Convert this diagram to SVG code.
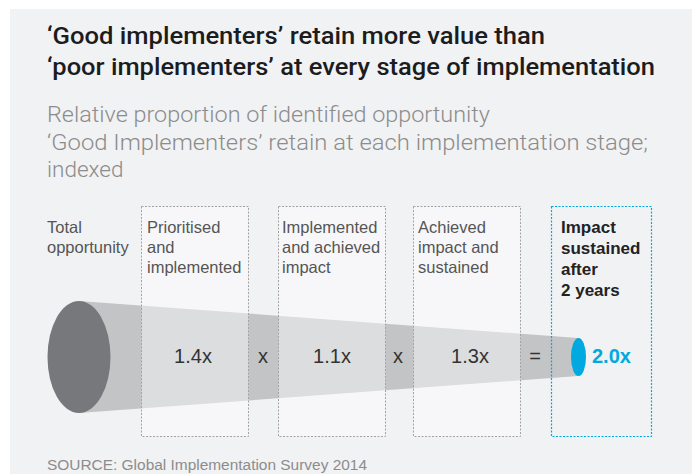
<svg xmlns="http://www.w3.org/2000/svg" width="692" height="474" viewBox="0 0 692 474">
  <style>
    .title { font-family: Roboto, "Liberation Sans", Arial, sans-serif; font-weight: 500; font-size: 24px; fill: #1c1c1c; }
    .sub { font-family: Roboto, "Liberation Sans", Arial, sans-serif; font-weight: 300; font-size: 22.5px; fill: #8c8c8c; }
    .lbl { font-family: "Liberation Sans", Arial, sans-serif; font-size: 16.5px; fill: #555; }
    .lblb { font-family: "Liberation Sans", Arial, sans-serif; font-weight: bold; font-size: 17px; fill: #222; }
    .val { font-family: "Liberation Sans", Arial, sans-serif; font-size: 20px; fill: #333; text-anchor: middle; }
    .res { font-family: "Liberation Sans", Arial, sans-serif; font-weight: bold; font-size: 20px; fill: #00a9e0; }
    .src { font-family: "Liberation Sans", Arial, sans-serif; font-size: 15.5px; fill: #8c8c8c; }
    .stage { fill: #ffffff; fill-opacity: 0.42; stroke: #a3a3a3; stroke-width: 1; stroke-dasharray: 2 1.5; }
    .result { fill: none; stroke: #00a9e0; stroke-width: 1.2; stroke-dasharray: 2 1.5; }
  </style>

  <!-- page and panel -->
  <rect x="0" y="0" width="692" height="474" fill="#ffffff"/>
  <rect x="10" y="9" width="682" height="465" fill="#f1f2f4"/>

  <!-- heading -->
  <g id="heading">
    <text class="title" x="47" y="44" textLength="498" lengthAdjust="spacingAndGlyphs">‘Good implementers’ retain more value than</text>
    <text class="title" x="47" y="75" textLength="608" lengthAdjust="spacingAndGlyphs">‘poor implementers’ at every stage of implementation</text>
    <text class="sub" x="47" y="122" textLength="443" lengthAdjust="spacingAndGlyphs">Relative proportion of identified opportunity</text>
    <text class="sub" x="47" y="150" textLength="601" lengthAdjust="spacingAndGlyphs">‘Good Implementers’ retain at each implementation stage;</text>
    <text class="sub" x="47" y="177">indexed</text>
  </g>

  <!-- funnel shape -->
  <g id="funnel">
    <polygon points="79,301 578,338 578,376 79,413" fill="#c3c4c6"/>
    <ellipse cx="79" cy="357" rx="31.5" ry="56" fill="#77787b"/>
  </g>

  <!-- stages -->
  <g id="total">
    <text class="lbl" x="47" y="233">Total</text>
    <text class="lbl" x="47" y="253">opportunity</text>
  </g>

  <g id="stage-prioritised">
    <rect class="stage" x="141.5" y="206.5" width="107" height="230"/>
    <text class="lbl" x="147" y="233">Prioritised</text>
    <text class="lbl" x="147" y="253">and</text>
    <text class="lbl" x="147" y="273">implemented</text>
    <text class="val" x="193" y="363">1.4x</text>
  </g>

  <g id="stage-implemented">
    <rect class="stage" x="278.5" y="206.5" width="107" height="230"/>
    <text class="lbl" x="282" y="233">Implemented</text>
    <text class="lbl" x="282" y="253">and achieved</text>
    <text class="lbl" x="282" y="273">impact</text>
    <text class="val" x="332" y="363">1.1x</text>
  </g>

  <g id="stage-achieved">
    <rect class="stage" x="413.5" y="206.5" width="107" height="230"/>
    <text class="lbl" x="418" y="233">Achieved</text>
    <text class="lbl" x="418" y="253">impact and</text>
    <text class="lbl" x="418" y="273">sustained</text>
    <text class="val" x="470" y="363">1.3x</text>
  </g>

  <g id="stage-sustained">
    <rect class="result" x="551.5" y="206.5" width="100" height="230"/>
    <text class="lblb" x="561" y="233">Impact</text>
    <text class="lblb" x="561" y="254">sustained</text>
    <text class="lblb" x="561" y="275">after</text>
    <text class="lblb" x="561" y="296">2 years</text>
    <ellipse cx="578.5" cy="357" rx="7.5" ry="19" fill="#00a9e0"/>
    <text class="res" x="592" y="363">2.0x</text>
  </g>

  <!-- operators between stages -->
  <g id="operators">
    <text class="val" x="263" y="363">x</text>
    <text class="val" x="398" y="363">x</text>
    <text class="val" x="535" y="363">=</text>
  </g>

  <g id="source">
    <text class="src" x="47" y="470" textLength="320" lengthAdjust="spacingAndGlyphs">SOURCE: Global Implementation Survey 2014</text>
  </g>
</svg>
